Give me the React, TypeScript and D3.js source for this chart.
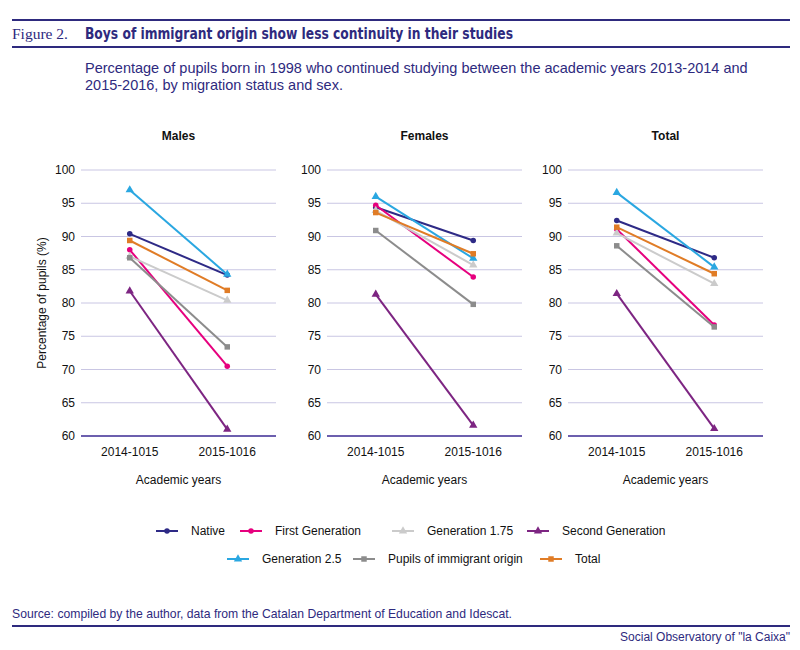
import * as d3 from "d3";

// academic years on the x axis, panels left to right
const years = ["2014-1015", "2015-1016"];
const panels = ["Males", "Females", "Total"];
const yTicks = [60, 65, 70, 75, 80, 85, 90, 95, 100];

// each series: [males, females, total] x [2014-1015, 2015-1016]
const nativeValues = [[90.4, 84.2], [94.4, 89.4], [92.4, 86.8]];
const firstGenValues = [[88.0, 70.5], [94.7, 83.9], [91.1, 76.7]];
const gen175Values = [[87.0, 80.4], [93.9, 85.7], [90.5, 82.9]];
const secondGenValues = [[81.8, 61.0], [81.3, 61.6], [81.4, 61.1]];
const gen25Values = [[97.0, 84.3], [96.0, 86.7], [96.6, 85.4]];
const immigrantValues = [[86.8, 73.4], [90.9, 79.8], [88.6, 76.4]];
const totalValues = [[89.4, 81.9], [93.6, 87.4], [91.4, 84.4]];

const series = [
  { name: "Native", values: nativeValues, color: "#2e2a86", symbol: d3.symbolCircle },
  { name: "First Generation", values: firstGenValues, color: "#e6007e", symbol: d3.symbolCircle },
  { name: "Generation 1.75", values: gen175Values, color: "#cbcbcb", symbol: d3.symbolTriangle },
  { name: "Second Generation", values: secondGenValues, color: "#7d2582", symbol: d3.symbolTriangle },
  { name: "Generation 2.5", values: gen25Values, color: "#2aa7e1", symbol: d3.symbolTriangle },
  { name: "Pupils of immigrant origin", values: immigrantValues, color: "#8c8c8c", symbol: d3.symbolSquare },
  { name: "Total", values: totalValues, color: "#e07c26", symbol: d3.symbolSquare },
];

// legend slot positions (row, x of the swatch line)
const legendSlots = [
  [0, 156], [0, 240], [0, 392], [0, 527],
  [1, 227], [1, 353], [1, 540],
];

const navy = "#2e2a7e";
const sans = "'Liberation Sans', Arial, sans-serif";
const narrow = "'Liberation Sans Narrow', 'DejaVu Sans Condensed', sans-serif";

const W = 800;
const H = 650;
const panelLefts = [81, 327, 568];
const panelW = 195;
const plotTop = 170;
const plotBottom = 436;

export default function App() {
  const y = d3.scaleLinear().domain([60, 100]).range([plotBottom, plotTop]);
  const line = d3.line<[number, number]>().x((d) => d[0]).y((d) => d[1]);

  return (
    <svg width={W} height={H} style={{ position: "absolute", left: 0, top: 0, background: "#fff" }} fontFamily={sans}>
      {/* header */}
      <line x1={12} x2={790} y1={20} y2={20} stroke={navy} strokeWidth={2} />
      <text
        x={12}
        y={39}
        fontFamily="'Liberation Serif', serif"
        fontSize={15}
        fill={navy}
        textLength={56}
        lengthAdjust="spacingAndGlyphs"
      >
        Figure 2.
      </text>
      <text
        x={85}
        y={39}
        fontFamily={narrow}
        fontWeight="bold"
        fontSize={15}
        fill={navy}
        textLength={428}
        lengthAdjust="spacingAndGlyphs"
      >
        Boys of immigrant origin show less continuity in their studies
      </text>
      <line x1={12} x2={790} y1={47} y2={47} stroke={navy} strokeWidth={2} />
      <text x={85} y={73} fontSize={14.5} fill={navy}>
        Percentage of pupils born in 1998 who continued studying between the academic years 2013-2014 and
      </text>
      <text x={85} y={90} fontSize={14.5} fill={navy}>
        2015-2016, by migration status and sex.
      </text>

      {panels.map((panel, pi) => {
        const left = panelLefts[pi];
        const x = d3.scalePoint<string>().domain(years).range([left, left + panelW]).padding(0.5);
        return (
          <g key={panel}>
            <text x={left + panelW / 2} y={140} textAnchor="middle" fontSize={12} fontWeight="bold" fill="#111">
              {panel}
            </text>
            {yTicks.map((t) => (
              <g key={t}>
                <line
                  x1={left}
                  x2={left + panelW}
                  y1={y(t)}
                  y2={y(t)}
                  stroke={t === 60 ? "#6c5fae" : "#c9c6e3"}
                  strokeWidth={t === 60 ? 2 : 1}
                />
                <text x={left - 6} y={y(t)} dy="0.35em" textAnchor="end" fontSize={12} fill="#111">
                  {t}
                </text>
              </g>
            ))}
            {years.map((yr) => (
              <text key={yr} x={x(yr)} y={456} textAnchor="middle" fontSize={12} fill="#111">
                {yr}
              </text>
            ))}
            <text x={left + panelW / 2} y={484} textAnchor="middle" fontSize={12} fill="#111">
              Academic years
            </text>
            {series.map((s) => {
              const pts = years.map((yr, i) => [x(yr) ?? 0, y(s.values[pi][i])] as [number, number]);
              return (
                <g key={s.name}>
                  <path d={line(pts) ?? ""} fill="none" stroke={s.color} strokeWidth={2} />
                  {pts.map((p, i) => (
                    <path
                      key={i}
                      transform={`translate(${p[0]},${p[1]})`}
                      d={d3.symbol(s.symbol, s.symbol === d3.symbolCircle ? 24 : 30)() ?? ""}
                      fill={s.color}
                    />
                  ))}
                </g>
              );
            })}
          </g>
        );
      })}

      <text
        transform={`translate(46,${(plotTop + plotBottom) / 2}) rotate(-90)`}
        textAnchor="middle"
        fontSize={12}
        fill="#111"
      >
        Percentage of pupils (%)
      </text>

      {/* legend */}
      {series.map((s, i) => {
        const [row, lx] = legendSlots[i];
        const ly = 531 + row * 28;
        return (
          <g key={s.name}>
            <line x1={lx} x2={lx + 22} y1={ly} y2={ly} stroke={s.color} strokeWidth={2} />
            <path
              transform={`translate(${lx + 11},${ly})`}
              d={d3.symbol(s.symbol, s.symbol === d3.symbolCircle ? 24 : 30)() ?? ""}
              fill={s.color}
            />
            <text x={lx + 35} y={ly} dy="0.35em" fontSize={12} fill="#111">
              {s.name}
            </text>
          </g>
        );
      })}

      {/* footer */}
      <text x={12} y={618} fontSize={12.2} fill={navy}>
        Source: compiled by the author, data from the Catalan Department of Education and Idescat.
      </text>
      <line x1={12} x2={790} y1={626} y2={626} stroke={navy} strokeWidth={2} />
      <text x={790} y={641} textAnchor="end" fontSize={12} fill={navy}>
        Social Observatory of "la Caixa"
      </text>
    </svg>
  );
}
